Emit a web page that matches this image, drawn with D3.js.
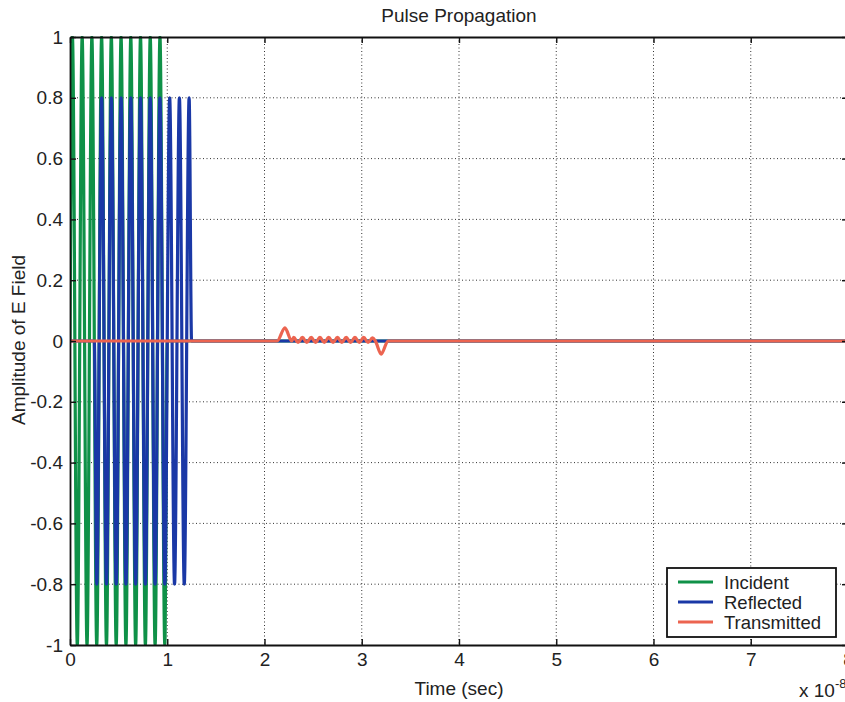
<!DOCTYPE html>
<html>
<head>
<meta charset="utf-8">
<script src="https://cdn.jsdelivr.net/npm/d3@7"></script>
<style>
    body { margin: 0; background: #ffffff; }
    #chart-area { width: 845px; height: 702px; }
    text { font-family: Arial, "Liberation Sans", sans-serif; fill: #222; }
    .grid line { stroke: #333; stroke-width: 1; stroke-dasharray: 1,2.5; }
</style>
</head>
<body>
<div id="chart-area"></div>
<script>

// tick labels
let xTicks = [0, 1, 2, 3, 4, 5, 6, 7, 8];
let yTicks = [1, 0.8, 0.6, 0.4, 0.2, 0, -0.2, -0.4, -0.6, -0.8, -1];

// incident pulse, time in units of 1e-8 s (zero crossings and peaks)
let incidentTime = [0, 0.025, 0.075, 0.125, 0.175, 0.225, 0.275, 0.325, 0.375, 0.425, 0.475,
    0.525, 0.575, 0.625, 0.675, 0.725, 0.775, 0.825, 0.875, 0.925, 0.975, 1.0, 8];
let incidentValue = [0, 1, -1, 1, -1, 1, -1, 1, -1, 1, -1,
    1, -1, 1, -1, 1, -1, 1, -1, 1, -1, 0, 0];

// reflected pulse
let reflectedTime = [0, 0.25, 0.275, 0.325, 0.375, 0.425, 0.475, 0.525, 0.575, 0.625, 0.675,
    0.725, 0.775, 0.825, 0.875, 0.925, 0.975, 1.025, 1.075, 1.125, 1.175, 1.225, 1.25, 8];
let reflectedValue = [0, 0, -0.8, 0.8, -0.8, 0.8, -0.8, 0.8, -0.8, 0.8, -0.8,
    0.8, -0.8, 0.8, -0.8, 0.8, -0.8, 0.8, -0.8, 0.8, -0.8, 0.8, 0, 0];

// transmitted pulse
let transmittedTime = [0, 2.13, 2.21, 2.28, 2.3, 2.345, 2.39, 2.435, 2.48, 2.525, 2.57, 2.615,
    2.66, 2.705, 2.75, 2.795, 2.84, 2.885, 2.93, 2.975, 3.02, 3.065, 3.11, 3.14,
    3.2, 3.27, 8];
let transmittedValue = [0, 0, 0.043, 0, 0.012, -0.005, 0.012, -0.005, 0.012, -0.005, 0.012, -0.005,
    0.012, -0.005, 0.012, -0.005, 0.012, -0.005, 0.012, -0.005, 0.012, -0.005, 0.01, 0,
    -0.043, 0, 0];

// legend
let seriesNames = ["Incident", "Reflected", "Transmitted"];
let seriesColors = ["#0f9148", "#1a38a6", "#ec6450"];


class PulseVis {

    constructor(parentElement) {
        this.parentElement = parentElement;
        this.initVis();
    }

    initVis() {
        let vis = this;

        vis.width = 845;
        vis.height = 702;

        vis.svg = d3.select("#" + vis.parentElement).append("svg")
            .attr("width", vis.width)
            .attr("height", vis.height);

        // scales (plot box runs past the right edge of the picture)
        vis.x = d3.scaleLinear().domain([0, 8]).range([70, 848]);
        vis.y = d3.scaleLinear().domain([-1, 1]).range([645, 37]);

        vis.plot = {left: vis.x(0), right: vis.x(8), top: vis.y(1), bottom: vis.y(-1)};

        // grid
        vis.grid = vis.svg.append("g").attr("class", "grid");
        vis.grid.selectAll(".vgrid")
            .data(xTicks.slice(1, -1))
            .enter().append("line")
            .attr("x1", d => vis.x(d)).attr("x2", d => vis.x(d))
            .attr("y1", vis.plot.top).attr("y2", vis.plot.bottom);
        vis.grid.selectAll(".hgrid")
            .data(yTicks.slice(1, -1))
            .enter().append("line")
            .attr("x1", vis.plot.left).attr("x2", vis.plot.right)
            .attr("y1", d => vis.y(d)).attr("y2", d => vis.y(d));

        vis.drawSeries();
        vis.drawAxes();
        vis.drawLegend();
    }

    drawSeries() {
        let vis = this;

        let line = d3.line()
            .x(d => vis.x(d[0]))
            .y(d => vis.y(d[1]))
            .curve(d3.curveMonotoneX);

        let series = [
            d3.zip(incidentTime, incidentValue),
            d3.zip(reflectedTime, reflectedValue),
            d3.zip(transmittedTime, transmittedValue)
        ];
        let widths = [3.2, 3.2, 3.2];

        vis.svg.append("defs").append("clipPath").attr("id", "clip")
            .append("rect")
            .attr("x", vis.plot.left).attr("y", vis.plot.top - 1)
            .attr("width", vis.plot.right - vis.plot.left)
            .attr("height", vis.plot.bottom - vis.plot.top + 2);

        vis.svg.append("g")
            .attr("clip-path", "url(#clip)")
            .selectAll(".series")
            .data(series)
            .enter().append("path")
            .attr("class", "series")
            .attr("d", line)
            .attr("fill", "none")
            .attr("stroke", (d, i) => seriesColors[i])
            .attr("stroke-width", (d, i) => widths[i])
            .attr("stroke-linejoin", "round");
    }

    drawAxes() {
        let vis = this;

        // hyphen instead of unicode minus, like the original
        let fmt = d => d3.format("~g")(d).replace("\u2212", "-");

        // MATLAB style: ticks point inward on all four sides
        let bottom = d3.axisBottom(vis.x).tickValues(xTicks).tickSizeInner(-6).tickSizeOuter(0).tickPadding(15);
        let top = d3.axisTop(vis.x).tickValues(xTicks).tickSizeInner(-6).tickSizeOuter(0).tickFormat("");
        let left = d3.axisLeft(vis.y).tickValues(yTicks).tickSizeInner(-6).tickSizeOuter(0).tickPadding(7)
            .tickFormat(fmt);
        let right = d3.axisRight(vis.y).tickValues(yTicks).tickSizeInner(-6).tickSizeOuter(0).tickFormat("");

        let axes = [
            vis.svg.append("g").attr("transform", `translate(0,${vis.plot.bottom})`).call(bottom),
            vis.svg.append("g").attr("transform", `translate(0,${vis.plot.top})`).call(top),
            vis.svg.append("g").attr("transform", `translate(${vis.plot.left},0)`).call(left),
            vis.svg.append("g").attr("transform", `translate(${vis.plot.right},0)`).call(right)
        ];

        axes.forEach(a => {
            a.select(".domain").attr("stroke", "#111").attr("stroke-width", 1.8);
            a.selectAll(".tick line").attr("stroke", "#111").attr("stroke-width", 1.4);
            a.selectAll(".tick text")
                .style("font-size", "19px")
                .attr("fill", "#222")
                .style("font-family", "Arial, 'Liberation Sans', sans-serif");
        });
        axes[0].selectAll(".tick text").attr("dy", "0.3em");

        // labels
        vis.svg.append("text")
            .attr("x", (vis.plot.left + vis.plot.right) / 2)
            .attr("y", 22)
            .attr("text-anchor", "middle")
            .style("font-size", "19px")
            .text("Pulse Propagation");

        vis.svg.append("text")
            .attr("x", (vis.plot.left + vis.plot.right) / 2)
            .attr("y", 695)
            .attr("text-anchor", "middle")
            .style("font-size", "19px")
            .text("Time (sec)");

        vis.svg.append("text")
            .attr("transform", "translate(25,340) rotate(-90)")
            .attr("text-anchor", "middle")
            .style("font-size", "19px")
            .text("Amplitude of E Field");

        let expo = vis.svg.append("text")
            .attr("x", 799)
            .attr("y", 697)
            .style("font-size", "19px")
            .text("x 10");
        expo.append("tspan")
            .attr("dy", -9)
            .style("font-size", "13px")
            .text("-8");
    }

    drawLegend() {
        let vis = this;

        let legend = vis.svg.append("g").attr("class", "legend");

        legend.append("rect")
            .attr("x", 667).attr("y", 568)
            .attr("width", 169).attr("height", 69)
            .attr("fill", "#ffffff")
            .attr("stroke", "#111")
            .attr("stroke-width", 1.8);

        let items = legend.selectAll(".item")
            .data(seriesNames)
            .enter().append("g")
            .attr("class", "item")
            .attr("transform", (d, i) => `translate(0,${582 + i * 20})`);

        items.append("line")
            .attr("x1", 678).attr("x2", 713)
            .attr("stroke", (d, i) => seriesColors[i])
            .attr("stroke-width", 2.8);

        items.append("text")
            .attr("x", 724)
            .attr("y", 6.5)
            .style("font-size", "18.5px")
            .text(d => d);
    }
}

new PulseVis("chart-area");

</script>
</body>
</html>
